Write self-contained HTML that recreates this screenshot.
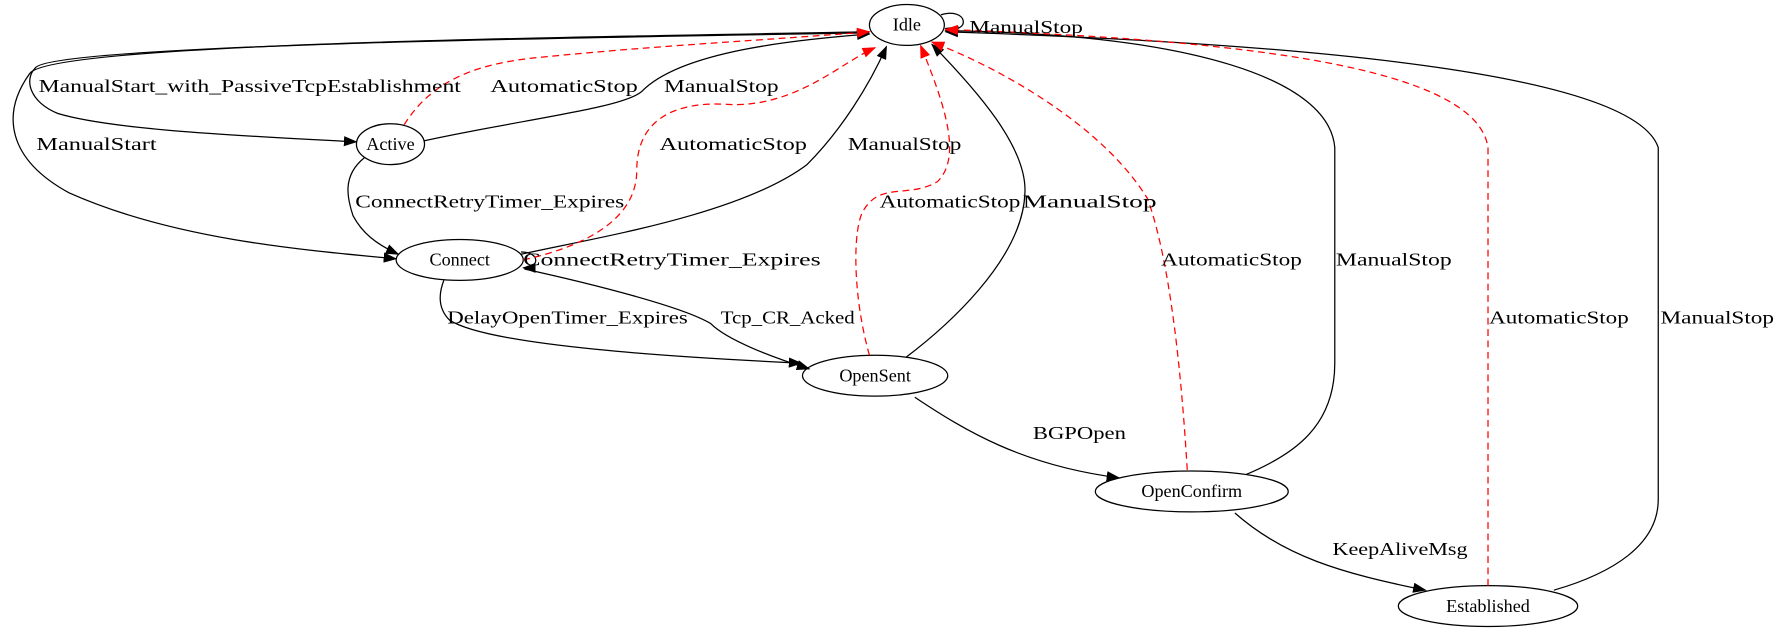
<!DOCTYPE html>
<html><head><meta charset="utf-8"><style>
html,body{margin:0;padding:0;background:#fff}
svg{display:block}
text{font-family:"Liberation Serif",serif;font-size:15.5px;fill:#000}
.n{font-size:16px}
</style></head><body>
<svg width="1782" height="639" viewBox="0 0 1568 563" xmlns="http://www.w3.org/2000/svg">
<defs>
<marker id="ab" markerWidth="12" markerHeight="9" refX="11" refY="4.5" orient="auto" markerUnits="userSpaceOnUse"><path d="M0,0 L12,4.5 L0,9 z" fill="#000"/></marker>
<marker id="ar" markerWidth="12" markerHeight="9" refX="11" refY="4.5" orient="auto" markerUnits="userSpaceOnUse"><path d="M0,0 L12,4.5 L0,9 z" fill="#f00"/></marker>
</defs>
<g fill="none" stroke="#000" stroke-width="1.1">
<ellipse cx="798" cy="22" rx="33" ry="18"/>
<ellipse cx="343" cy="127" rx="30" ry="18"/>
<ellipse cx="404" cy="229" rx="56" ry="18"/>
<ellipse cx="770" cy="331" rx="64" ry="18"/>
<ellipse cx="1049" cy="433" rx="85" ry="18"/>
<ellipse cx="1310" cy="534" rx="79" ry="18"/>
<path d="M765,29 C500,33 40,40 30,60 C20,70 25,90 50,100 C100,115 220,120 313,125" marker-end="url(#ab)"/>
<path d="M765,28 C500,33 40,38 25,65 C0,100 5,140 60,170 C150,210 260,220 348,228" marker-end="url(#ab)"/>
<path d="M373,124 C460,105 550,95 565,80 C600,45 700,35 765,30" marker-end="url(#ab)"/>
<path d="M320,139 C300,155 305,175 310,190 C318,205 330,215 350,224" marker-end="url(#ab)"/>
<path d="M458,224 C520,210 650,190 710,145 C740,115 765,75 780,41" marker-end="url(#ab)"/>
<path d="M458,222 C475,222 475,236 460,236" marker-end="url(#ab)"/>
<path d="M390,247 C385,260 385,272 395,282 C430,305 600,315 705,320" marker-end="url(#ab)"/>
<path d="M461,237 C520,250 600,270 625,285 C640,300 680,315 712,325" marker-end="url(#ab)"/>
<path d="M797,315 C830,290 900,230 902,170 C904,130 860,80 820,39" marker-end="url(#ab)"/>
<path d="M805,350 C850,380 900,410 985,421" marker-end="url(#ab)"/>
<path d="M1097,418 C1140,400 1175,375 1175,320 L1175,130 C1170,70 1050,30 832,27" marker-end="url(#ab)"/>
<path d="M1087,452 C1130,490 1180,505 1255,520" marker-end="url(#ab)"/>
<path d="M1368,520 C1420,505 1460,480 1460,440 L1460,130 C1440,70 1200,40 832,28" marker-end="url(#ab)"/>
<path d="M828,13 C852,6 855,30 832,25" marker-end="url(#ab)"/>
</g>
<g fill="none" stroke="#f00" stroke-width="1.1" stroke-dasharray="6,4">
<path d="M355,110 C380,70 420,55 480,50 C580,40 680,35 765,28" marker-end="url(#ar)"/>
<path d="M460,229 C500,220 560,200 560,150 C560,95 610,90 640,92 C700,95 740,55 770,42" marker-end="url(#ar)"/>
<path d="M765,313 C750,260 750,200 760,185 C775,160 800,175 825,160 C845,140 835,100 810,40" marker-end="url(#ar)"/>
<path d="M1045,414 C1040,330 1030,230 1010,175 C970,110 880,60 820,37" marker-end="url(#ar)"/>
<path d="M1310,516 L1310,130 C1300,60 1100,35 832,26" marker-end="url(#ar)"/>
</g>
<text class="n" x="798" y="27" text-anchor="middle">Idle</text>
<text class="n" x="343" y="132" text-anchor="middle">Active</text>
<text class="n" x="404" y="234" text-anchor="middle">Connect</text>
<text class="n" x="770" y="336" text-anchor="middle">OpenSent</text>
<text class="n" x="1049" y="438" text-anchor="middle">OpenConfirm</text>
<text class="n" x="1310" y="539" text-anchor="middle">Established</text>
<text x="853" y="29" textLength="100" lengthAdjust="spacingAndGlyphs">ManualStop</text>
<text x="33" y="81" textLength="372" lengthAdjust="spacingAndGlyphs">ManualStart_with_PassiveTcpEstablishment</text>
<text x="431" y="81" textLength="130" lengthAdjust="spacingAndGlyphs">AutomaticStop</text>
<text x="584" y="81" textLength="101" lengthAdjust="spacingAndGlyphs">ManualStop</text>
<text x="31" y="132" textLength="106" lengthAdjust="spacingAndGlyphs">ManualStart</text>
<text x="580" y="132" textLength="130" lengthAdjust="spacingAndGlyphs">AutomaticStop</text>
<text x="746" y="132" textLength="100" lengthAdjust="spacingAndGlyphs">ManualStop</text>
<text x="312" y="183" textLength="237" lengthAdjust="spacingAndGlyphs">ConnectRetryTimer_Expires</text>
<text x="774" y="183" textLength="124" lengthAdjust="spacingAndGlyphs">AutomaticStop</text>
<text x="900" y="183" textLength="118" lengthAdjust="spacingAndGlyphs">ManualStop</text>
<text x="460" y="234" textLength="262" lengthAdjust="spacingAndGlyphs">ConnectRetryTimer_Expires</text>
<text x="1022" y="234" textLength="124" lengthAdjust="spacingAndGlyphs">AutomaticStop</text>
<text x="1176" y="234" textLength="102" lengthAdjust="spacingAndGlyphs">ManualStop</text>
<text x="393" y="285" textLength="212" lengthAdjust="spacingAndGlyphs">DelayOpenTimer_Expires</text>
<text x="634" y="285" textLength="118" lengthAdjust="spacingAndGlyphs">Tcp_CR_Acked</text>
<text x="1311" y="285" textLength="123" lengthAdjust="spacingAndGlyphs">AutomaticStop</text>
<text x="1462" y="285" textLength="100" lengthAdjust="spacingAndGlyphs">ManualStop</text>
<text x="909" y="387" textLength="82" lengthAdjust="spacingAndGlyphs">BGPOpen</text>
<text x="1173" y="489" textLength="119" lengthAdjust="spacingAndGlyphs">KeepAliveMsg</text>
</svg>
</body></html>
